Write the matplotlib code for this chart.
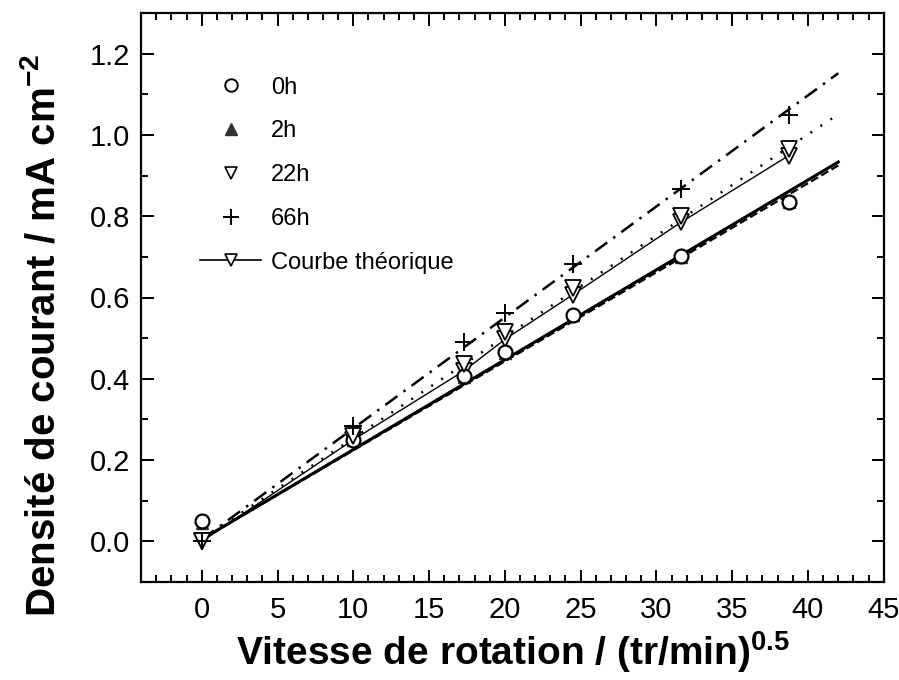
import numpy as np
import matplotlib.pyplot as plt
from matplotlib.lines import Line2D
from matplotlib.ticker import MultipleLocator

plt.rcParams['font.family'] = ['Liberation Sans', 'DejaVu Sans']
plt.rcParams['mathtext.fontset'] = 'custom'
plt.rcParams['mathtext.rm'] = 'Liberation Sans'
plt.rcParams['mathtext.bf'] = 'Liberation Sans:bold'

# racine de la vitesse de rotation (tr/min)^0.5
omega = [0, 10, 17.32, 20, 24.49, 31.62, 38.73]

# densites de courant mesurees (mA cm-2)
j_0h = [0.050, 0.25, 0.407, 0.466, 0.558, 0.702, 0.834]
j_2h = [0.045, 0.25, 0.405, 0.464, 0.556, 0.700, 0.834]
j_22h = [0.0, 0.26, 0.437, 0.515, 0.624, 0.800, 0.966]
j_66h = [0.0, 0.283, 0.490, 0.563, 0.683, 0.866, 1.050]
j_theo = [0.0, 0.25, 0.420, 0.497, 0.607, 0.785, 0.949]

# droites de regression (pente, ordonnee a l'origine)
fit_0h = (0.0221, 0.005)
fit_2h = (0.0219, 0.005)
fit_22h = (0.0249, 0.005)
fit_66h = (0.0273, 0.005)
x_fit_max = 42

fig = plt.figure(figsize=(8.99, 6.8), dpi=100)
ax = fig.add_axes([0.157, 0.144, 0.826, 0.837])

xf = np.linspace(0, x_fit_max, 50)
ax.plot(xf, fit_0h[0] * xf + fit_0h[1], '-', color='black', lw=2.2)
ax.plot(xf, fit_2h[0] * xf + fit_2h[1], '--', color='black', lw=1.6)
ax.plot(xf, fit_22h[0] * xf + fit_22h[1], color='black', lw=1.8,
        dashes=(0.8, 4))
ax.plot(xf, fit_66h[0] * xf + fit_66h[1], color='black', lw=1.8,
        dashes=(6, 3, 1, 3))

# courbe theorique
ax.plot(omega, j_theo, '-', color='black', lw=1.0, marker='v', ms=11,
        mfc='white', mec='black', mew=1.3)

ax.plot(omega, j_2h, ls='none', marker='^', ms=8, mfc='#333333', mec='#333333')
ax.plot(omega, j_0h, ls='none', marker='o', ms=10, mfc='white', mec='black', mew=1.6)
ax.plot(omega, j_22h, ls='none', marker='v', ms=11, mfc='white', mec='black', mew=1.3)
ax.plot(omega, j_66h, ls='none', marker='+', ms=13, mec='black', mew=1.4)

handles = [
    Line2D([], [], ls='none', marker='o', ms=9, mfc='white', mec='black', mew=1.4),
    Line2D([], [], ls='none', marker='^', ms=9, mfc='#333333', mec='#333333'),
    Line2D([], [], ls='none', marker='v', ms=9, mfc='white', mec='black', mew=1.2),
    Line2D([], [], ls='none', marker='+', ms=11, mec='black', mew=1.4),
    Line2D([], [], ls='-', color='black', lw=1.2, marker='v', ms=9,
           mfc='white', mec='black', mew=1.2),
]
labels = ['0h', '2h', '22h', '66h', 'Courbe théorique']
ax.legend(handles, labels, loc='upper left', bbox_to_anchor=(0.079, 0.888),
          frameon=False, fontsize=17, borderpad=0, borderaxespad=0,
          handlelength=2.6, handletextpad=0.4, labelspacing=0.92)

ax.set_xlim(-4, 45)
ax.set_ylim(-0.1, 1.3)
ax.xaxis.set_minor_locator(MultipleLocator(1))
ax.yaxis.set_minor_locator(MultipleLocator(0.1))
ax.set_xticks([0, 5, 10, 15, 20, 25, 30, 35, 40, 45])
ax.set_yticks([0.0, 0.2, 0.4, 0.6, 0.8, 1.0, 1.2])
ax.yaxis.set_major_formatter(plt.FormatStrFormatter('%.1f'))

ax.tick_params(which='both', direction='in', top=True, right=True,
               width=1.4, labelsize=21)
ax.tick_params(which='major', length=9)
ax.tick_params(which='minor', length=5)
ax.tick_params(axis='x', pad=10)
ax.tick_params(axis='y', pad=8)
for s in ax.spines.values():
    s.set_linewidth(1.6)

ax.set_xlabel(r'Vitesse de rotation / (tr/min)$\mathbf{^{0.5}}$',
              fontsize=28, fontweight='bold', labelpad=4)
ax.set_ylabel(r'Densité de courant / mA cm$\mathbf{^{-2}}$',
              fontsize=29, fontweight='bold')
ax.yaxis.set_label_coords(-0.106, 0.434)

fig.savefig('out.png', dpi=100)
